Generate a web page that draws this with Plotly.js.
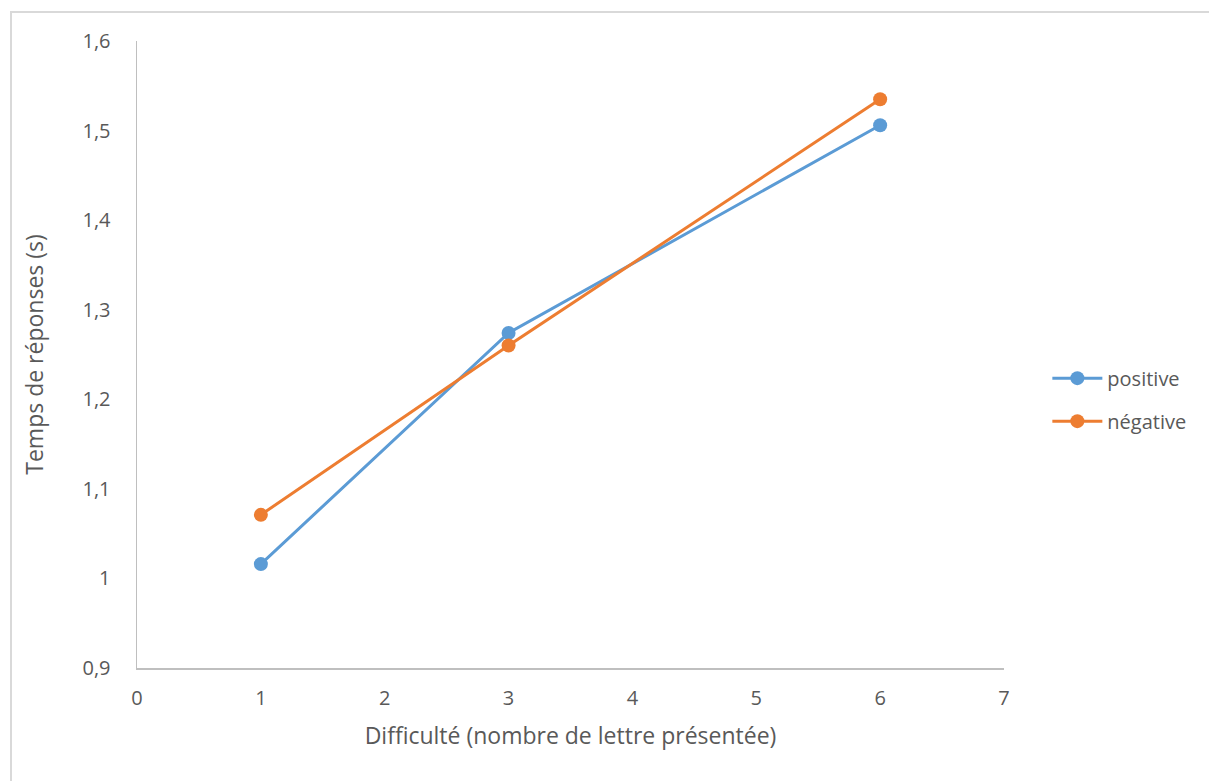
<!DOCTYPE html>
<html>
<head>
<meta charset="utf-8">
<script src="https://cdn.plot.ly/plotly-3.0.1.min.js"></script>
<style>
html,body{margin:0;padding:0;background:#fff;overflow:hidden;}
#chart{width:1209px;height:781px;position:absolute;left:0;top:0;}
#frame{position:absolute;left:10px;top:11px;width:1300px;height:900px;border-left:2px solid #d9d9d9;border-top:2px solid #d9d9d9;pointer-events:none;}
</style>
</head>
<body>
<div id="chart"></div>
<div id="frame"></div>
<script>
const difficulty = [1, 3, 6];
const positive = [1.016, 1.274, 1.506];
const negative = [1.071, 1.260, 1.535];
const xTicks = [0, 1, 2, 3, 4, 5, 6, 7];
const yTicks = [0.9, 1.0, 1.1, 1.2, 1.3, 1.4, 1.5, 1.6];
const yTickText = ['0,9', '1', '1,1', '1,2', '1,3', '1,4', '1,5', '1,6'];

const font = 'Open Sans, Liberation Sans, sans-serif';
const traces = [
  {x: difficulty, y: positive, name: 'positive', type: 'scatter', mode: 'lines+markers', legendgroup: 'p',
   line: {color: '#5b9bd5', width: 3}, marker: {color: '#5b9bd5', size: 14}},
  {x: difficulty, y: negative, name: 'négative', type: 'scatter', mode: 'lines+markers', legendgroup: 'n',
   line: {color: '#ed7d31', width: 3}, marker: {color: '#ed7d31', size: 14}}
];
const layout = {
  width: 1209, height: 781,
  margin: {l: 137, r: 205, t: 41, b: 113},
  paper_bgcolor: '#fff', plot_bgcolor: '#fff',
  separators: ', ',
  font: {family: font, color: '#595959', size: 20},
  showlegend: true,
  legend: {x: 1.05, y: 0.428, xanchor: 'left', yanchor: 'middle',
           font: {family: font, size: 20, color: '#595959'}, tracegroupgap: 14, itemwidth: 50},
  xaxis: {range: [0, 7], tickvals: xTicks, ticktext: xTicks.map(String), showgrid: false, zeroline: false,
          tickfont: {size: 20, color: '#595959'},
          showline: true, linecolor: '#bfbfbf', linewidth: 1.5, ticks: '', ticklabelstandoff: 11,
          title: {text: 'Difficulté (nombre de lettre présentée)', font: {size: 23, color: '#595959'}, standoff: 18}},
  yaxis: {range: [0.9, 1.6], tickvals: yTicks, ticktext: yTickText, showgrid: false, zeroline: false,
          tickfont: {size: 20, color: '#595959'},
          showline: true, linecolor: '#bfbfbf', linewidth: 1.5, ticks: '', ticklabelstandoff: 21,
          title: {text: 'Temps de réponses (s)', font: {size: 23, color: '#595959'}, standoff: 32}}
};
Plotly.newPlot('chart', traces, layout, {displayModeBar: false, staticPlot: true});
</script>
</body>
</html>
